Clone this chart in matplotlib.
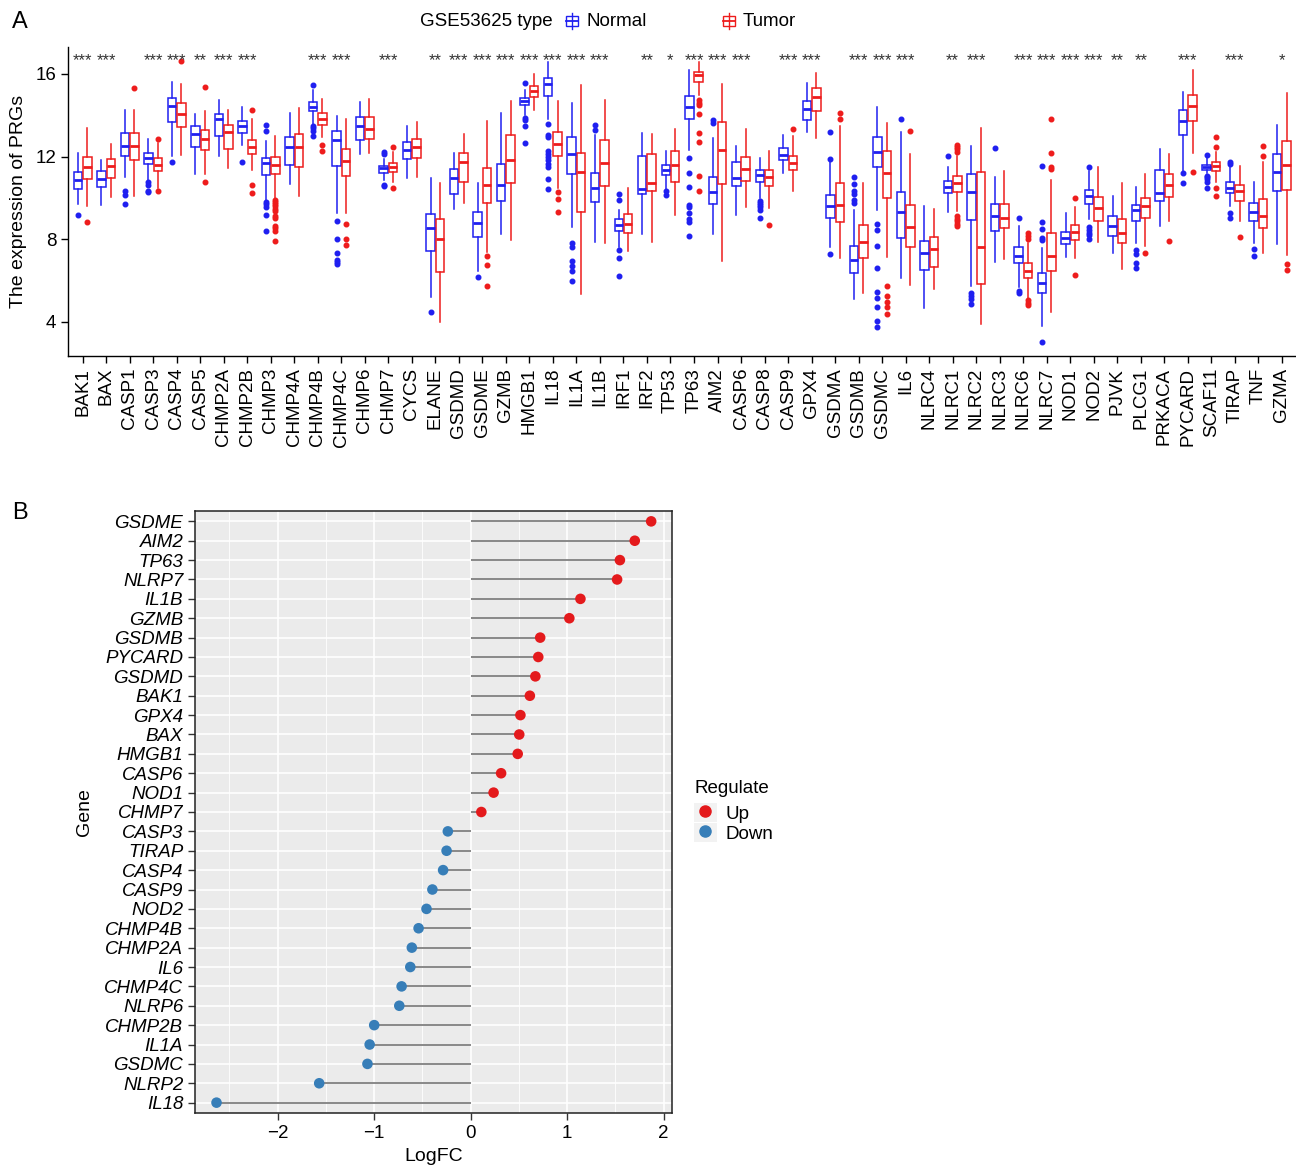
import matplotlib
matplotlib.use("Agg")
import matplotlib.pyplot as plt
import numpy as np
from matplotlib.patches import Rectangle, Patch
from matplotlib.lines import Line2D
from matplotlib.legend_handler import HandlerTuple

plt.rcParams['font.family'] = ['Liberation Sans', 'DejaVu Sans']

# ---------------- Panel A data ----------------
genes = ["BAK1", "BAX", "CASP1", "CASP3", "CASP4", "CASP5", "CHMP2A", "CHMP2B", "CHMP3",
         "CHMP4A", "CHMP4B", "CHMP4C", "CHMP6", "CHMP7", "CYCS", "ELANE", "GSDMD", "GSDME",
         "GZMB", "HMGB1", "IL18", "IL1A", "IL1B", "IRF1", "IRF2", "TP53", "TP63", "AIM2",
         "CASP6", "CASP8", "CASP9", "GPX4", "GSDMA", "GSDMB", "GSDMC", "IL6", "NLRC4",
         "NLRC1", "NLRC2", "NLRC3", "NLRC6", "NLRC7", "NOD1", "NOD2", "PJVK", "PLCG1",
         "PRKACA", "PYCARD", "SCAF11", "TIRAP", "TNF", "GZMA"]

stars = ["***", "***", "", "***", "***", "**", "***", "***", "", "", "***", "***", "", "***",
         "", "**", "***", "***", "***", "***", "***", "***", "***", "", "**", "*", "***", "***",
         "***", "", "***", "***", "", "***", "***", "***", "", "**", "***", "", "***", "***",
         "***", "***", "**", "**", "", "***", "", "***", "", "*"]

# Normal: upper whisker, Q3, median, Q1, lower whisker
normal_hi = [12.18, 11.85, 14.23, 12.87, 15.61, 14.07, 14.75, 14.40, 12.75, 14.10, 15.20, 13.94, 14.64,
             11.90, 13.49, 10.98, 12.18, 10.72, 14.10, 15.20, 16.58, 14.60, 13.05, 9.40, 13.13, 12.29,
             16.18, 12.91, 12.53, 11.94, 13.05, 15.58, 11.72, 9.43, 14.40, 13.18, 9.62, 11.51, 12.53,
             11.03, 8.65, 7.56, 9.26, 11.29, 10.11, 10.54, 12.37, 15.13, 11.95, 11.48, 10.77, 13.54]
normal_q3 = [11.24, 11.30, 13.12, 12.16, 14.85, 13.47, 14.07, 13.73, 11.94, 12.96, 14.64, 13.25, 13.89,
             11.55, 12.68, 9.21, 11.40, 9.30, 11.64, 14.85, 15.81, 12.94, 11.19, 8.97, 12.03, 11.60,
             14.91, 11.00, 11.74, 11.34, 12.39, 14.70, 10.14, 7.69, 12.96, 10.30, 7.92, 10.80, 11.14,
             9.68, 7.63, 6.38, 8.37, 10.36, 9.10, 9.67, 11.35, 14.27, 11.60, 10.75, 9.77, 12.10]
normal_med = [10.85, 10.90, 12.52, 11.92, 14.43, 13.10, 13.83, 13.47, 11.68, 12.47, 14.40, 12.81, 13.46,
              11.43, 12.34, 8.53, 10.96, 8.79, 10.64, 14.67, 15.50, 12.10, 10.49, 8.70, 10.43, 11.35,
              14.38, 10.28, 10.96, 11.09, 12.08, 14.28, 9.62, 7.01, 12.21, 9.30, 7.34, 10.54, 10.30,
              9.13, 7.19, 5.86, 8.05, 10.07, 8.66, 9.41, 10.25, 13.70, 11.48, 10.49, 9.34, 11.27]
normal_q1 = [10.43, 10.53, 12.03, 11.64, 13.68, 12.44, 13.00, 13.15, 11.11, 11.58, 14.19, 11.56, 12.81,
             11.21, 11.87, 7.45, 10.19, 8.10, 9.86, 14.51, 14.91, 11.16, 9.81, 8.39, 10.19, 11.13,
             13.83, 9.68, 10.56, 10.77, 11.81, 13.78, 9.04, 6.35, 11.51, 8.08, 6.53, 10.22, 8.92,
             8.42, 6.85, 5.38, 7.77, 9.68, 8.18, 8.87, 9.86, 13.04, 11.35, 10.22, 8.87, 10.33]
normal_lo = [9.70, 9.65, 11.00, 10.83, 12.05, 11.16, 12.02, 12.57, 9.86, 10.67, 13.59, 9.26, 12.13,
             10.85, 10.95, 5.20, 9.46, 6.46, 8.24, 13.99, 13.83, 8.60, 7.87, 7.60, 8.24, 10.43,
             12.34, 8.24, 9.18, 9.99, 11.21, 13.18, 7.64, 5.12, 9.41, 6.14, 4.68, 9.31, 5.73,
             6.90, 5.70, 3.82, 7.14, 9.00, 7.35, 7.84, 8.65, 11.32, 11.19, 9.62, 7.84, 7.76]
normal_out = [[9.17], [], [10.35, 10.15, 9.72], [10.75, 10.64, 10.35, 10.27], [11.76], [], [], [11.76],
              [13.51, 13.25, 9.78, 9.70, 9.54, 9.18, 8.40], [], [15.48, 13.46, 13.39, 13.26, 12.99],
              [8.86, 8.03, 7.35, 7.00, 6.88, 6.79], [], [12.22, 12.13, 10.64, 10.59], [], [4.49], [],
              [6.19], [], [15.56, 13.86, 13.75, 13.46, 12.65],
              [13.59, 13.02, 12.94, 12.29, 12.13, 11.97, 11.81, 11.64, 11.48, 10.91, 10.43],
              [7.82, 7.60, 6.95, 6.70, 6.46, 5.98], [13.51, 13.30], [10.19, 9.91, 7.48, 7.11, 6.20],
              [], [10.32, 10.15], [11.92, 11.19, 10.54, 9.65, 9.54, 9.25, 8.97, 8.84, 8.16],
              [13.78, 13.62], [], [9.86, 9.75, 9.65, 9.54, 9.43, 9.02], [], [], [13.21, 11.89, 7.30],
              [11.00, 10.67, 10.32, 10.19, 9.89, 9.73],
              [8.74, 8.44, 7.66, 6.62, 5.46, 5.17, 4.73, 4.03, 3.74], [13.83], [], [12.05],
              [5.38, 5.25, 5.13, 4.89], [12.40], [9.05, 5.50, 5.38],
              [11.53, 8.81, 8.49, 8.08, 7.95, 3.01], [], [11.51, 8.57, 8.44, 8.32, 8.20, 8.00], [],
              [7.47, 7.27, 6.87, 6.61], [], [11.19, 10.74], [12.08, 11.08, 11.00, 10.90, 10.75, 10.46],
              [11.72, 11.64, 9.26, 9.05], [7.53, 7.19], []]

tumor_hi = [13.39, 12.60, 14.27, 12.65, 15.53, 14.20, 14.27, 13.80, 13.00, 14.33, 14.77, 13.83, 14.77,
            12.21, 13.67, 10.74, 13.07, 13.70, 14.67, 15.98, 14.67, 15.45, 14.75, 10.46, 13.10, 13.34,
            16.58, 15.50, 13.34, 12.26, 12.99, 16.02, 13.46, 10.72, 13.64, 12.13, 9.46, 12.05, 13.38,
            11.29, 7.80, 10.87, 9.54, 11.51, 10.70, 11.16, 12.10, 16.18, 12.21, 11.56, 11.72, 15.08]
tumor_q3 = [11.97, 11.89, 13.13, 11.94, 14.59, 13.30, 13.54, 12.81, 11.97, 13.09, 14.12, 12.36, 13.89,
            11.71, 12.84, 8.97, 12.16, 11.43, 13.04, 15.42, 13.18, 12.16, 12.78, 9.20, 12.13, 12.26,
            16.10, 13.67, 11.97, 11.37, 12.05, 15.32, 10.72, 8.68, 12.26, 9.64, 8.11, 11.06, 11.26,
            9.68, 6.85, 8.32, 8.68, 10.04, 8.99, 9.98, 11.16, 15.00, 11.76, 10.64, 9.93, 12.74]
tumor_med = [11.47, 11.53, 12.50, 11.61, 14.07, 12.83, 13.18, 12.45, 11.60, 12.47, 13.81, 11.77, 13.33,
             11.51, 12.45, 8.02, 11.72, 10.64, 11.84, 15.16, 12.62, 11.24, 11.69, 8.76, 10.70, 11.61,
             15.94, 12.34, 11.38, 11.03, 11.68, 14.88, 9.67, 7.87, 11.21, 8.57, 7.51, 10.72, 7.63,
             9.05, 6.46, 7.17, 8.36, 9.52, 8.32, 9.59, 10.64, 14.45, 11.55, 10.32, 9.13, 11.60]
tumor_q1 = [10.91, 10.96, 11.82, 11.30, 13.43, 12.32, 12.37, 12.13, 11.16, 11.47, 13.52, 11.06, 12.86,
            11.27, 11.94, 6.41, 10.77, 9.77, 10.72, 14.88, 12.02, 9.30, 10.56, 8.32, 10.33, 10.77,
            15.61, 10.67, 10.83, 10.57, 11.35, 14.22, 8.84, 7.08, 9.98, 7.63, 6.67, 10.27, 5.81,
            8.53, 6.14, 6.45, 7.95, 8.89, 7.81, 9.02, 10.02, 13.70, 11.32, 9.83, 8.53, 10.40]
tumor_lo = [9.59, 10.02, 10.10, 10.50, 12.08, 11.16, 11.45, 11.35, 9.99, 10.09, 12.94, 9.26, 12.18,
            10.75, 11.00, 4.00, 9.73, 7.40, 7.97, 14.23, 10.50, 5.33, 7.81, 7.43, 7.87, 9.18,
            14.96, 6.95, 9.54, 9.49, 10.32, 12.91, 7.08, 5.38, 7.14, 5.77, 5.57, 9.38, 3.90,
            7.06, 5.17, 4.49, 7.11, 7.87, 6.54, 7.68, 8.86, 12.18, 10.75, 8.89, 7.32, 7.24]
tumor_out = [[8.84], [], [15.34], [12.86, 10.35], [16.62], [15.38, 10.79], [], [14.23, 10.62, 10.25],
             [9.89, 9.78, 9.70, 9.62, 9.46, 9.38, 9.13, 9.05, 8.65, 8.53, 8.40, 7.92], [], [12.58, 12.29],
             [8.76, 8.00, 7.72], [], [12.44, 10.46], [], [], [], [7.19, 6.75, 5.72], [], [],
             [10.27, 9.94, 9.30], [], [], [], [], [],
             [14.72, 14.59, 14.48, 14.07, 13.15, 12.70, 11.04, 10.35], [], [], [8.68], [13.34], [],
             [14.10, 13.83], [], [5.73, 5.25, 4.96, 4.73, 4.36], [13.26], [],
             [12.58, 12.45, 12.35, 12.24, 9.13, 9.00, 8.90, 8.76, 8.65], [], [],
             [8.32, 8.16, 8.00, 5.04, 4.92, 4.84], [13.80, 12.16, 11.51, 11.40], [9.98, 6.25], [], [],
             [7.35], [7.89], [11.24], [12.94, 12.45, 10.46, 10.11], [8.11], [12.53, 12.05], [6.82, 6.49]]

group_names = ["Normal", "Tumor"]
group_colors = ["#1F1FF0", "#EE1C1C"]

# ---------------- Panel B data ----------------
lolli_genes = ["GSDME", "AIM2", "TP63", "NLRP7", "IL1B", "GZMB", "GSDMB", "PYCARD", "GSDMD", "BAK1",
               "GPX4", "BAX", "HMGB1", "CASP6", "NOD1", "CHMP7", "CASP3", "TIRAP", "CASP4", "CASP9",
               "NOD2", "CHMP4B", "CHMP2A", "IL6", "CHMP4C", "NLRP6", "CHMP2B", "IL1A", "GSDMC",
               "NLRP2", "IL18"]
logfc = [1.87, 1.70, 1.546, 1.517, 1.137, 1.022, 0.72, 0.70, 0.67, 0.613, 0.515, 0.503, 0.487, 0.315,
         0.237, 0.11, -0.237, -0.25, -0.286, -0.397, -0.458, -0.54, -0.61, -0.626, -0.716, -0.74,
         -1.0, -1.047, -1.07, -1.57, -2.634]
up_color = "#E41A1C"
down_color = "#377EB8"

W, H = 1296, 1172
fig = plt.figure(figsize=(W / 100, H / 100), dpi=100)


def frect(x0, y0, x1, y1):
    return [x0 / W, 1 - y1 / H, (x1 - x0) / W, (y1 - y0) / H]


def fpt(x, y):
    return (x / W, 1 - y / H)


# ---------------- Panel A ----------------
axA = fig.add_axes(frect(68, 47, 1296, 356))
x = np.arange(len(genes))
groups = [(normal_hi, normal_q3, normal_med, normal_q1, normal_lo, normal_out),
          (tumor_hi, tumor_q3, tumor_med, tumor_q1, tumor_lo, tumor_out)]
offsets = [-0.2, 0.2]
for (hi, q3, med, q1, lo, out), off, col in zip(groups, offsets, group_colors):
    stats = []
    for i in range(len(genes)):
        stats.append(dict(med=med[i], q1=q1[i], q3=q3[i], whislo=lo[i], whishi=hi[i],
                          fliers=np.array(out[i])))
    axA.bxp(stats, positions=x + off, widths=0.36, showcaps=False, patch_artist=True,
            boxprops=dict(facecolor="white", edgecolor=col, linewidth=1.1),
            medianprops=dict(color=col, linewidth=2.0),
            whiskerprops=dict(color=col, linewidth=1.1),
            flierprops=dict(marker="o", markerfacecolor=col, markeredgecolor=col,
                            markersize=3.3, linestyle="none"),
            manage_ticks=False)

for i, s in enumerate(stars):
    if s:
        axA.text(i, 16.42, s, ha="center", va="baseline", fontsize=12, color="#333333")

axA.set_xlim(-0.62, len(genes) - 0.4)
axA.set_ylim(2.35, 17.3)
axA.set_xticks(x)
axA.set_xticklabels(genes, rotation=90, fontsize=13.5)
axA.set_yticks([4, 8, 12, 16])
axA.tick_params(axis="y", labelsize=13.5, length=5, width=1)
axA.tick_params(axis="x", length=5, width=1)
axA.spines["top"].set_visible(False)
axA.spines["right"].set_visible(False)
axA.spines["left"].set_linewidth(1.0)
axA.spines["bottom"].set_linewidth(1.0)
axA.set_ylabel("The expression of PRGs", fontsize=14, labelpad=6)

# Legend for panel A (drawn as a key row above the plot)
fig.text(*fpt(420, 21), "GSE53625 type", fontsize=13.5, va="center", ha="left")
key_x = [572, 729]
label_x = [586, 743]
for kx, lx, col, name in zip(key_x, label_x, group_colors, group_names):
    fig.add_artist(Line2D([kx / W, kx / W], [1 - 13 / H, 1 - 29 / H], transform=fig.transFigure,
                          color=col, lw=1.0))
    fig.add_artist(Rectangle(fpt(kx - 6, 26), 12 / W, 10 / H, transform=fig.transFigure,
                             facecolor="white", edgecolor=col, lw=1.0))
    fig.add_artist(Line2D([(kx - 6) / W, (kx + 6) / W], [1 - 21 / H, 1 - 21 / H],
                          transform=fig.transFigure, color=col, lw=1.3))
    fig.text(*fpt(lx, 21), name, fontsize=13.5, va="center", ha="left")

fig.text(*fpt(12, 22), "A", fontsize=17, va="center", ha="left")
fig.text(*fpt(12, 513), "B", fontsize=17, va="center", ha="left")

# ---------------- Panel B ----------------
axB = fig.add_axes(frect(195, 510.7, 672.3, 1113.3))
yb = np.arange(len(lolli_genes))
vals = np.array(logfc)
cols = [up_color if v > 0 else down_color for v in vals]
axB.set_facecolor("#EBEBEB")
axB.hlines(yb, 0, vals, color="#808080", lw=1.3, zorder=2)
axB.scatter(vals, yb, s=58, c=cols, zorder=3, linewidths=0)
axB.set_xlim(-2.857, 2.089)
axB.set_ylim(len(lolli_genes) - 0.45, -0.55)
axB.set_xticks([-2, -1, 0, 1, 2])
axB.set_xticklabels(["\u22122", "\u22121", "0", "1", "2"])
axB.set_xticks([-2.5, -1.5, -0.5, 0.5, 1.5], minor=True)
axB.set_yticks(yb)
axB.set_yticklabels(lolli_genes, fontstyle="italic")
axB.tick_params(axis="both", labelsize=13.5, length=5, width=1, color="#333333")
axB.tick_params(axis="x", which="minor", length=0)
axB.grid(True, which="major", color="white", lw=1.2, zorder=0)
axB.grid(True, which="minor", axis="x", color="white", lw=0.6, zorder=0)
axB.set_axisbelow(True)
for sp in axB.spines.values():
    sp.set_linewidth(1.1)
    sp.set_color("#222222")
axB.set_xlabel("LogFC", fontsize=14, labelpad=4)
axB.set_ylabel("Gene", fontsize=14, labelpad=8)

handles = [(Patch(facecolor="#F2F2F2", edgecolor="none"),
            Line2D([], [], marker="o", color=up_color, ls="", markersize=8)),
           (Patch(facecolor="#F2F2F2", edgecolor="none"),
            Line2D([], [], marker="o", color=down_color, ls="", markersize=8))]
leg = fig.legend(handles, ["Up", "Down"], title="Regulate", loc="upper left",
                 bbox_to_anchor=fpt(681, 767), frameon=False, fontsize=13.5, title_fontsize=13.5,
                 handlelength=1.2, handleheight=1.2, labelspacing=0.0, handletextpad=0.5,
                 borderpad=0.2, alignment="left",
                 handler_map={tuple: HandlerTuple(ndivide=1)})
leg._legend_box.sep = 4

fig.savefig("out.png", dpi=100)
